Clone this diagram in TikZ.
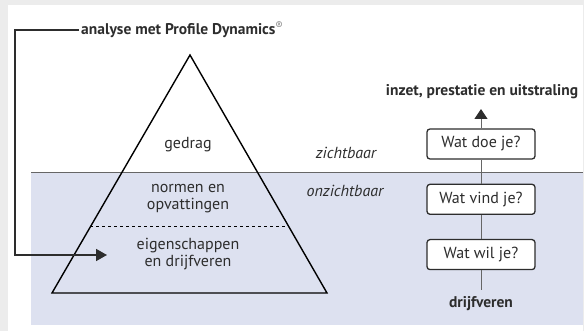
\documentclass[tikz,border=0pt]{standalone}
\usepackage{fontspec}
\setmainfont{PT Sans}
\usetikzlibrary{positioning}
\usetikzlibrary{arrows.meta}
\definecolor{zee}{RGB}{221,225,240}
\definecolor{inkt}{RGB}{45,45,45}
\definecolor{schaduw}{RGB}{236,236,236}
\tikzset{x=1pt, y=-1pt, >={Triangle[length=11pt,width=12pt]}, font=\fontsize{16}{17}\selectfont}
\tikzstyle{vraag} = [draw=inkt, line width=1.3pt, fill=white, rounded corners=3pt, minimum width=108pt, minimum height=30pt, inner sep=0pt, text=inkt]
\tikzstyle{laag} = [align=center, text=inkt]
\tikzstyle{kop} = [text=inkt, font=\fontsize{15.5}{17}\selectfont\bfseries]
\tikzstyle{grens} = [text=inkt, font=\fontsize{16}{17}\selectfont\itshape]
\tikzstyle{lijn} = [draw=gray!80!black, line width=0.9pt]
\tikzstyle{terug} = [draw=inkt, line width=1.6pt]

\begin{document}
\begin{tikzpicture}
    \useasboundingbox (0,0) rectangle (584,331);
    \fill [schaduw] (0,0) rectangle (584,331);
    \fill [white] (8,5) rectangle (583,331);
    \fill [zee] (31,172) rectangle (583,325);
    \draw [lijn] (31,172) -- (583,172);

    \coordinate (top) at (190,55);
    \coordinate (links) at (52,293);
    \coordinate (rechts) at (327,293);
    \draw [line width=1.4pt, line join=miter] (top) -- (rechts) -- (links) -- cycle;
    \draw [dashed, line width=0.6pt] (90,226) -- (288,226);

    \node [laag] (gedrag) at (188,145) {gedrag};
    \node [laag] (normen) at (188,199) {normen en\\opvattingen};
    \node [laag] (eigen) at (188,254) {eigenschappen\\en drijfveren};
    \node [grens] (zicht) at (346,153) {zichtbaar};
    \node [grens] (onzicht) at (345,191) {onzichtbaar};

    \node [kop, anchor=west, inner sep=2pt] (analyse) at (79,30) {analyse met Profile Dynamics\textsuperscript{\mdseries\color{gray}®}};
    \coordinate (hoek) at (15,255);
    \coordinate (doel) at (107,255);
    \draw [terug, ->] (analyse.west) -| (hoek) -- (doel);

    \node [vraag] (doe) at (481,144) {Wat doe je?};
    \node [vraag, below=24pt of doe] (vind) {Wat vind je?};
    \node [vraag, below=24pt of vind] (wil) {Wat wil je?};
    \node [kop] (uit) at (482,92) {inzet, prestatie en uitstraling};
    \node [kop] (drijf) at (481,304) {drijfveren};
    \coordinate (voet) at (481,290);
    \coordinate (pijl) at (481,109);

    \draw [lijn] (voet) -- (wil);
    \draw [lijn] (wil) -- (vind);
    \draw [lijn] (vind) -- (doe);
    \draw [lijn, -{Triangle[length=10pt,width=13pt,color=inkt]}] (doe) -- (pijl);
\end{tikzpicture}
\end{document}
